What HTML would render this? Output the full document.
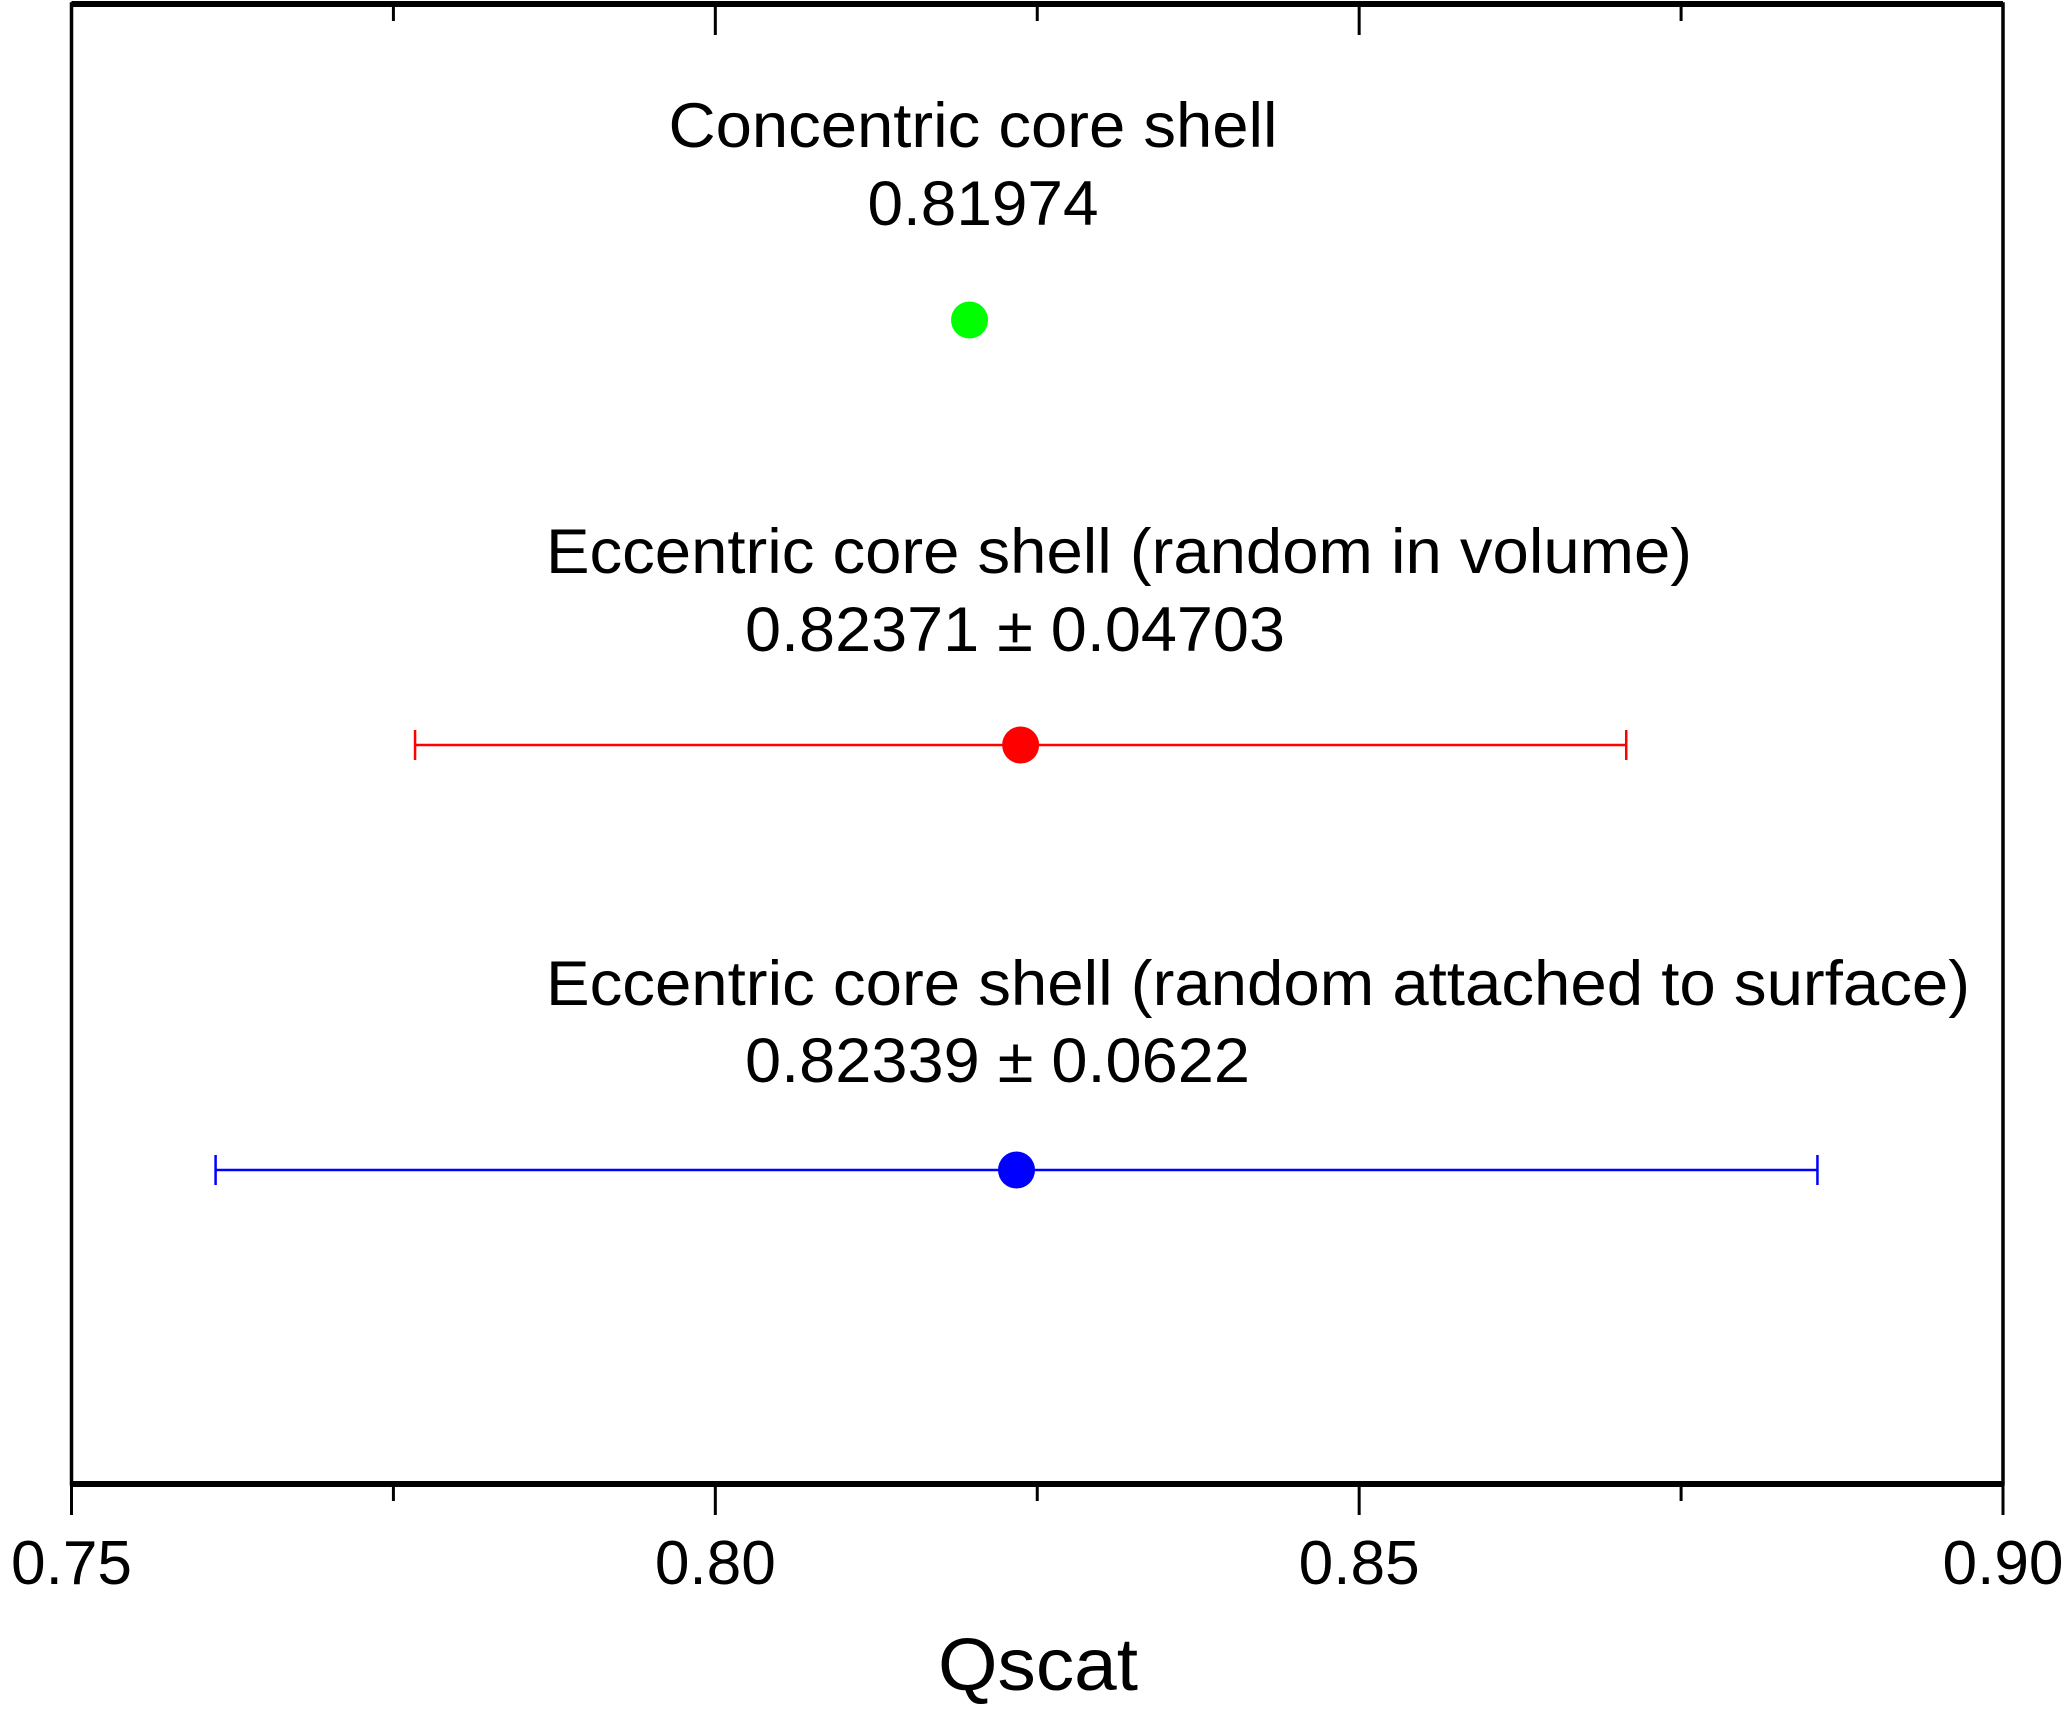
<!DOCTYPE html>
<html><head><meta charset="utf-8"><style>
html,body{margin:0;padding:0;background:#fff;}
svg text{font-family:"Liberation Sans",Arial,sans-serif;fill:#000;}
</style></head><body>
<svg id="chart" width="2067" height="1713" viewBox="0 0 2067 1713" xmlns="http://www.w3.org/2000/svg">
<g id="axes"></g>
<g id="marks"></g>
</svg>
<script>
const categories = ["Concentric core shell", "Eccentric core shell (random in volume)", "Eccentric core shell (random attached to surface)"];
const values = [0.81974, 0.82371, 0.82339];
const errors = [0, 0.04703, 0.0622];
const valueLabels = ["0.81974", "0.82371 ± 0.04703", "0.82339 ± 0.0622"];
const colors = ["#00ff00", "#ff0000", "#0000ff"];
const majorTicks = [0.75, 0.80, 0.85, 0.90];
const majorTickLabels = ["0.75", "0.80", "0.85", "0.90"];
const minorTicks = [0.775, 0.825, 0.875];

const NS = "http://www.w3.org/2000/svg";
const L = 71.5, R = 2003, T = 4, B = 1484;
const xMin = 0.75, xMax = 0.90;
function xs(v){ return L + (v - xMin) / (xMax - xMin) * (R - L); }
const rowY = [320, 745, 1170];
const titleY = [147, 573, 1005];
const labelY = [225, 651, 1082];
const titleLen = [609, 1146, 1424];
const labelLen = [231, 540, 505];
const titleX = [973, 546, 546];
const labelX = [983, 745, 745];
const titleAnchor = ["middle", "start", "start"];

function mk(tag, attrs, parent){
  const e = document.createElementNS(NS, tag);
  for (const k in attrs) e.setAttribute(k, attrs[k]);
  parent.appendChild(e);
  return e;
}
const axes = document.getElementById("axes");
const marks = document.getElementById("marks");

const frame = mk("rect", {x:L, y:T, width:R-L, height:B-T, fill:"none", stroke:"#000", "stroke-width":3.5}, axes);


const xaxis = mk("line", {x1:L, y1:B, x2:R, y2:B, stroke:"#000", "stroke-width":6}, axes);


const topaxis = mk("line", {x1:L, y1:T, x2:R, y2:T, stroke:"#000", "stroke-width":6}, axes);



majorTicks.forEach((v, i) => {
  const x = xs(v);
  const t = mk("line", {x1:x, y1:B, x2:x, y2:B+31, stroke:"#000", "stroke-width":3}, axes);
  
  
  const tt = mk("line", {x1:x, y1:T, x2:x, y2:T+31, stroke:"#000", "stroke-width":3}, axes);
  
  
  const lb = mk("text", {x:x, y:1584, "font-size":62, "text-anchor":"middle", textLength:121, lengthAdjust:"spacingAndGlyphs"}, axes);
  lb.textContent = majorTickLabels[i];
  
  
});
minorTicks.forEach(v => {
  const x = xs(v);
  const t = mk("line", {x1:x, y1:B, x2:x, y2:B+17, stroke:"#000", "stroke-width":3}, axes);
  
  
  const tt = mk("line", {x1:x, y1:T, x2:x, y2:T+17, stroke:"#000", "stroke-width":3}, axes);
  
  
});
const xt = mk("text", {x:1038, y:1690, "font-size":74, "text-anchor":"middle", textLength:200, lengthAdjust:"spacingAndGlyphs"}, axes);
xt.textContent = "Qscat";



categories.forEach((c, i) => {
  const y = rowY[i], v = values[i], e = errors[i];
  if (e > 0) {
    const x1 = xs(v - e), x2 = xs(v + e);
    const bar = mk("line", {x1:x1, y1:y, x2:x2, y2:y, stroke:colors[i], "stroke-width":2.5}, marks);
    
    
    [x1, x2].forEach(cx => {
      const cap = mk("line", {x1:cx, y1:y-15, x2:cx, y2:y+15, stroke:colors[i], "stroke-width":2.5}, marks);
      
      
    });
  }
  const pt = mk("circle", {cx:xs(v), cy:y, r:18.5, fill:colors[i]}, marks);
  
  
  const t1 = mk("text", {x:titleX[i], y:titleY[i], "font-size":63, "text-anchor":titleAnchor[i], textLength:titleLen[i], lengthAdjust:"spacingAndGlyphs"}, marks);
  t1.textContent = c;
  
  
  const t2 = mk("text", {x:labelX[i], y:labelY[i], "font-size":63, "text-anchor":titleAnchor[i], textLength:labelLen[i], lengthAdjust:"spacingAndGlyphs"}, marks);
  t2.textContent = valueLabels[i];
  
  
});
</script>
</body></html>
